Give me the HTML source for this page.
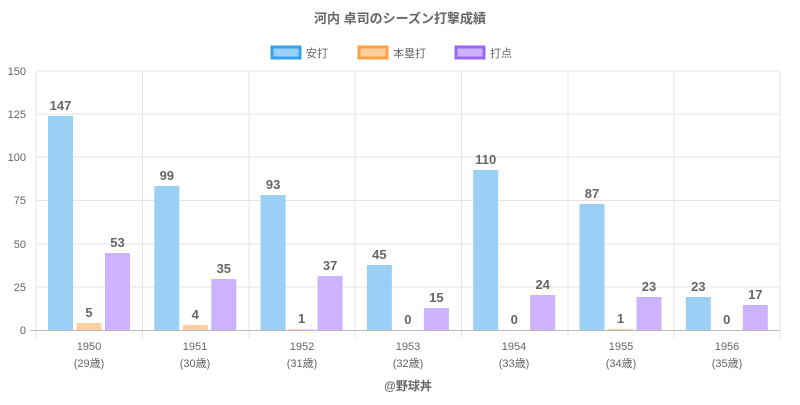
<!DOCTYPE html>
<html><head><meta charset="utf-8"><style>
body{margin:0;background:#fff;}
svg text{font-family:"Liberation Sans","Noto Sans CJK JP",sans-serif;}
</style></head><body>
<svg width="800" height="400" xmlns="http://www.w3.org/2000/svg">
<rect width="800" height="400" fill="#fff"/>
<text x="400" y="23" text-anchor="middle" font-size="13" font-weight="bold" fill="#666">河内 卓司のシーズン打撃成績</text>
<g font-size="11" fill="#666">
<rect x="272" y="47" width="28" height="11" fill="#9ad0f5" stroke="#36a2eb" stroke-width="3"/>
<text x="306" y="57">安打</text>
<rect x="359" y="47" width="28" height="11" fill="#ffcf9f" stroke="#ff9f40" stroke-width="3"/>
<text x="393" y="57">本塁打</text>
<rect x="456" y="47" width="28" height="11" fill="#ccb2ff" stroke="#9966ff" stroke-width="3"/>
<text x="490" y="57">打点</text>
</g>
<g stroke="#e5e5e5" stroke-width="1">
<line x1="36" y1="71" x2="780" y2="71"/><line x1="36" y1="114" x2="780" y2="114"/>
<line x1="36" y1="157" x2="780" y2="157"/><line x1="36" y1="200.5" x2="780" y2="200.5"/>
<line x1="36" y1="244" x2="780" y2="244"/><line x1="36" y1="287" x2="780" y2="287"/>
<line x1="142.5" y1="71" x2="142.5" y2="338"/><line x1="249" y1="71" x2="249" y2="338"/>
<line x1="355" y1="71" x2="355" y2="338"/><line x1="461.5" y1="71" x2="461.5" y2="338"/>
<line x1="568" y1="71" x2="568" y2="338"/><line x1="674" y1="71" x2="674" y2="338"/>
<line x1="780" y1="71" x2="780" y2="338"/><line x1="36" y1="71" x2="36" y2="338"/>
</g>
<g font-size="11" fill="#666" text-anchor="end">
<text x="26" y="75">150</text><text x="26" y="118">125</text><text x="26" y="161">100</text>
<text x="26" y="204">75</text><text x="26" y="248">50</text><text x="26" y="291">25</text><text x="26" y="334">0</text>
</g>
<g>
<rect x="48" y="116" width="25" height="214" fill="#9ad0f5"/>
<rect x="76.5" y="323" width="25" height="7" fill="#ffcf9f"/>
<rect x="105" y="253" width="25" height="77" fill="#ccb2ff"/>
<rect x="154.3" y="186" width="25" height="144" fill="#9ad0f5"/>
<rect x="182.8" y="325" width="25" height="5" fill="#ffcf9f"/>
<rect x="211.3" y="279" width="25" height="51" fill="#ccb2ff"/>
<rect x="260.6" y="195" width="25" height="135" fill="#9ad0f5"/>
<rect x="289.1" y="329" width="25" height="1" fill="#ffcf9f"/>
<rect x="317.6" y="276" width="25" height="54" fill="#ccb2ff"/>
<rect x="366.9" y="265" width="25" height="65" fill="#9ad0f5"/>
<rect x="423.9" y="308" width="25" height="22" fill="#ccb2ff"/>
<rect x="473.2" y="170" width="25" height="160" fill="#9ad0f5"/>
<rect x="530.2" y="295" width="25" height="35" fill="#ccb2ff"/>
<rect x="579.5" y="204" width="25" height="126" fill="#9ad0f5"/>
<rect x="608" y="329" width="25" height="1" fill="#ffcf9f"/>
<rect x="636.5" y="297" width="25" height="33" fill="#ccb2ff"/>
<rect x="685.8" y="297" width="25" height="33" fill="#9ad0f5"/>
<rect x="742.8" y="305" width="25" height="25" fill="#ccb2ff"/>
</g>
<line x1="30" y1="330.5" x2="780" y2="330.5" stroke="#bbb"/>
<g font-size="13" font-weight="bold" fill="#666" text-anchor="middle">
<text x="60.5" y="110">147</text><text x="89" y="317">5</text><text x="117.5" y="247">53</text>
<text x="166.8" y="180">99</text><text x="195.3" y="319">4</text><text x="223.8" y="273">35</text>
<text x="273.1" y="189">93</text><text x="301.6" y="323">1</text><text x="330.1" y="270">37</text>
<text x="379.4" y="259">45</text><text x="407.9" y="324">0</text><text x="436.4" y="302">15</text>
<text x="485.7" y="164">110</text><text x="514.2" y="324">0</text><text x="542.7" y="289">24</text>
<text x="592" y="198">87</text><text x="620.5" y="323">1</text><text x="649" y="291">23</text>
<text x="698.3" y="291">23</text><text x="726.8" y="324">0</text><text x="755.3" y="299">17</text>
</g>
<g font-size="11" fill="#666" text-anchor="middle">
<text x="89" y="350">1950</text><text x="89" y="367">(29歳)</text>
<text x="195" y="350">1951</text><text x="195" y="367">(30歳)</text>
<text x="302" y="350">1952</text><text x="302" y="367">(31歳)</text>
<text x="408" y="350">1953</text><text x="408" y="367">(32歳)</text>
<text x="514" y="350">1954</text><text x="514" y="367">(33歳)</text>
<text x="621" y="350">1955</text><text x="621" y="367">(34歳)</text>
<text x="727" y="350">1956</text><text x="727" y="367">(35歳)</text>
</g>
<text x="408" y="390" text-anchor="middle" font-size="12" font-weight="bold" fill="#666">@野球丼</text>
</svg>
</body></html>
